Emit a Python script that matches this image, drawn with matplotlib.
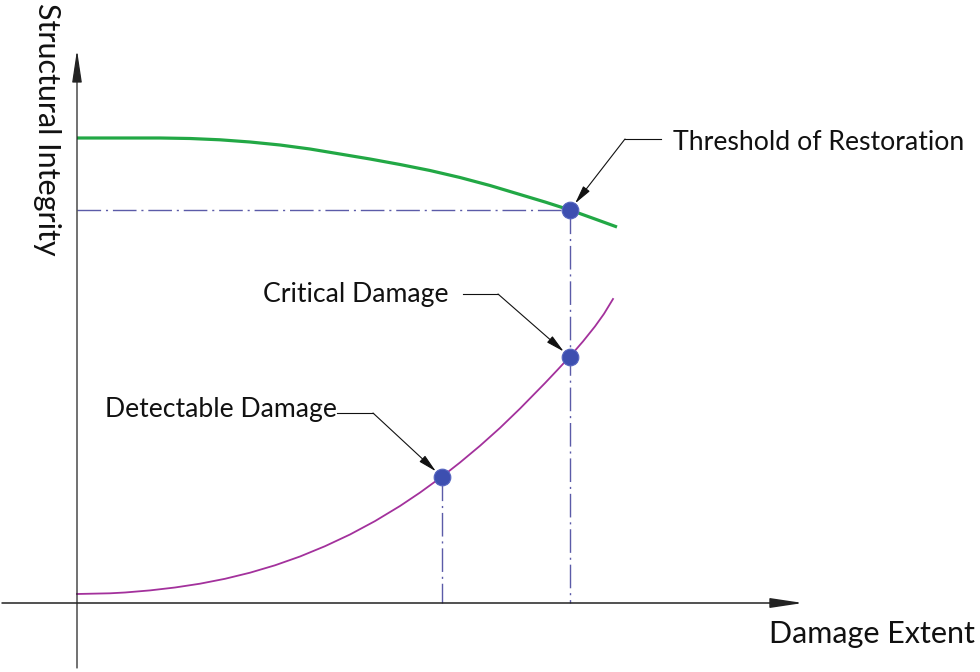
import numpy as np
import matplotlib
matplotlib.use("Agg")
import matplotlib.pyplot as plt

plt.rcParams['font.family'] = ['Lato', 'DejaVu Sans']

# curve readings (x = damage extent, y = structural integrity)
integrity_x = [0, 0.23, 0.53, 0.83, 1.13, 1.43, 1.73, 2.03, 2.33, 2.63,
               2.93, 3.23, 3.53, 3.83, 4.13, 4.43, 4.68, 4.93, 5.18, 5.40]
integrity_y = [4.65, 4.65, 4.65, 4.65, 4.645, 4.632, 4.61, 4.58, 4.54, 4.49,
               4.44, 4.385, 4.325, 4.255, 4.175, 4.085, 4.01, 3.93, 3.84, 3.76]

damage_x = [0, 0.33, 0.48, 0.73, 0.98, 1.23, 1.48, 1.73, 1.98, 2.23, 2.48, 2.73, 2.98, 3.23,
            3.43, 3.65, 3.83, 4.03, 4.23, 4.43, 4.68, 4.80, 4.93, 5.06, 5.18, 5.27, 5.36]
damage_y = [0.09, 0.097, 0.105, 0.126, 0.155, 0.193, 0.242, 0.303, 0.377, 0.465, 0.568, 0.685,
            0.819, 0.97, 1.104, 1.264, 1.405, 1.572, 1.751, 1.944, 2.199, 2.326, 2.466, 2.616,
            2.766, 2.892, 3.04]

# key points
point_names = ["Threshold of Restoration", "Critical Damage", "Detectable Damage"]
point_x = [4.93, 4.93, 3.65]
point_y = [3.93, 2.46, 1.26]

fig = plt.figure(figsize=(9.8, 6.72), dpi=100)
ax = fig.add_axes([0, 0, 1, 1])
ax.set_xlim(-0.77, 9.03)
ax.set_ylim(-0.69, 6.03)
ax.axis('off')

# axes with arrows
ax.annotate("", xy=(7.26, 0), xytext=(-0.75, 0),
            arrowprops=dict(arrowstyle='-|>,head_length=2.0,head_width=0.3',
                            mutation_scale=10, lw=1.1, color='#222222',
                            shrinkA=0, shrinkB=0))
ax.annotate("", xy=(0, 5.53), xytext=(0, -0.65),
            arrowprops=dict(arrowstyle='-|>,head_length=2.0,head_width=0.3',
                            mutation_scale=10, lw=0.9, color='#222222',
                            shrinkA=0, shrinkB=0))

dashdot = (0, (17, 3.5, 1.5, 3.5))
guide = '#5b5ba8'
ax.plot([0, point_x[0]], [point_y[0], point_y[0]], color=guide, lw=1.0, ls=dashdot)
ax.plot([point_x[0], point_x[0]], [point_y[0], 0], color=guide, lw=1.0, ls=dashdot)
ax.plot([point_x[2], point_x[2]], [point_y[2], 0], color=guide, lw=1.0, ls=dashdot)

ax.plot(integrity_x, integrity_y, color='#22a845', lw=2.3, solid_capstyle='butt',
        solid_joinstyle='round')
ax.plot(damage_x, damage_y, color='#a3319c', lw=1.3, solid_joinstyle='round')

ax.plot(point_x, point_y, 'o', ms=12, color='#3d4fb0', mec='#5565c0', mew=0.8, zorder=5)

# labels with leader lines: (text x, text baseline y, knee x, knee y, label end x)
leaders = [
    (5.96, 4.53, 5.48, 4.64, 5.84),
    (1.86, 3.01, 4.21, 3.09, 3.86),
    (0.28, 1.86, 2.96, 1.90, 2.60),
]
for name, px, py, (tx, ty, kx, ky, lx) in zip(point_names, point_x, point_y, leaders):
    ax.text(tx, ty, name, fontsize=19.2, va='baseline', ha='left', color='#111111')
    ax.plot([lx, kx], [ky, ky], color='#111111', lw=0.8)
    ax.annotate("", xy=(px, py), xytext=(kx, ky),
                arrowprops=dict(arrowstyle='-|>,head_length=0.8,head_width=0.18',
                                mutation_scale=14, lw=0.8, color='#111111',
                                shrinkA=0, shrinkB=6))

ax.text(8.98, -0.40, "Damage Extent", fontsize=22, ha='right', va='baseline', color='#111111')
ax.text(-0.30, 6.00, "Structural Integrity", fontsize=22, rotation=270,
        ha='center', va='top', color='#111111')

fig.savefig("out.png", dpi=100)
